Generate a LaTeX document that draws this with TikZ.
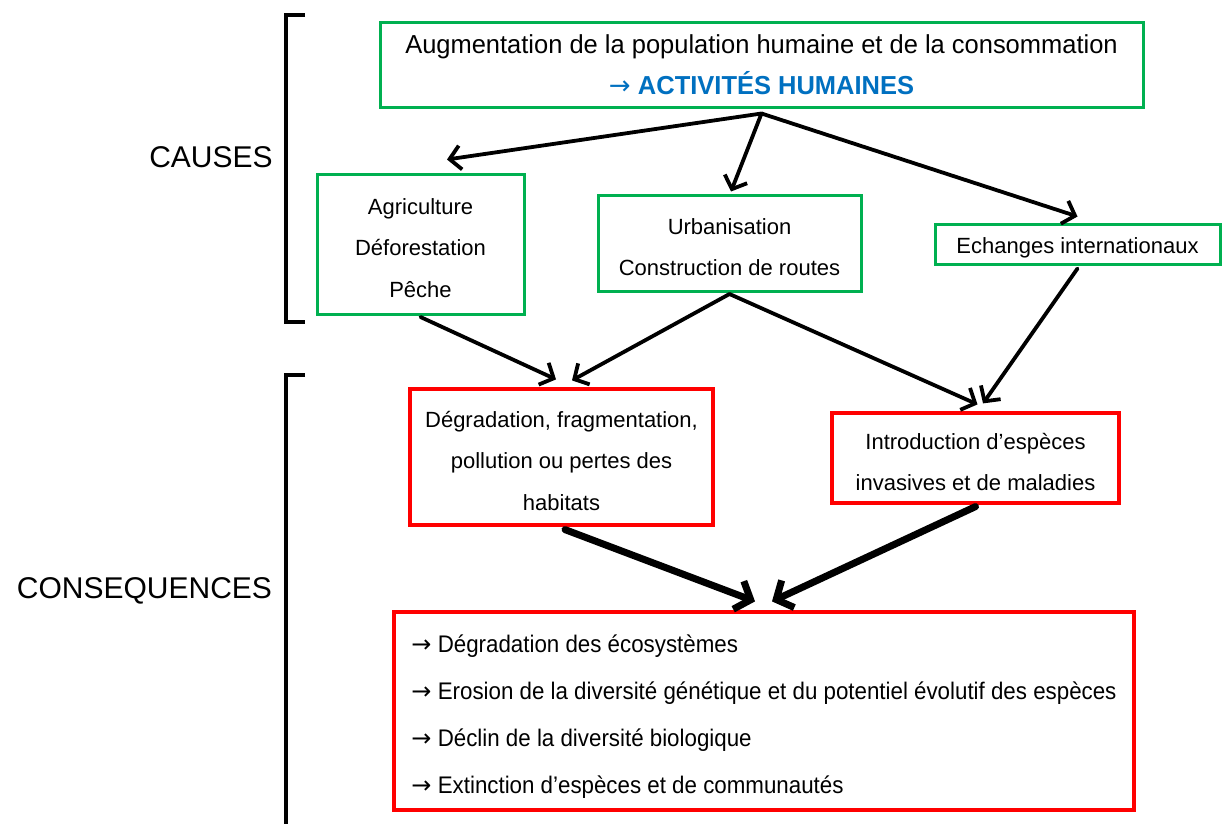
\documentclass[tikz,border=0pt]{standalone}
\usepackage{fontspec}
\setmainfont{Liberation Sans}
\newfontfamily\topfont[FakeStretch=0.98]{Liberation Sans}
\newfontfamily\listfont[FakeStretch=0.93]{Liberation Sans}
\newfontfamily\arrowfont{DejaVu Sans}
\newcommand{\rarr}{{\arrowfont →}}
\newcommand{\tstrut}{\rule{0pt}{24pt}}
\newcommand{\lstrut}{\rule{0pt}{29pt}}
\usetikzlibrary{arrows.meta}
\definecolor{boxgreen}{HTML}{00B050}
\definecolor{boxred}{HTML}{FF0000}
\definecolor{actblue}{HTML}{0070C0}
\begin{document}
\begin{tikzpicture}[x=1pt,y=-1pt,
  gbox/.style={draw=boxgreen, line width=3pt, inner sep=0pt, align=center, font=\fontsize{22}{41.5}\selectfont},
  rbox/.style={draw=boxred, line width=3.2pt, inner sep=0pt, align=center, font=\fontsize{22}{41.5}\selectfont},
  arr/.style={draw=black, line width=3.8pt, -{Straight Barb[length=11pt,width=24pt]}, line cap=round, line join=round},
  thickarr/.style={draw=black, line width=7pt, -{Straight Barb[length=13pt,width=30pt]}, line cap=round, line join=round},
  brk/.style={draw=black, line width=3.5pt},
  lab/.style={font=\fontsize{30}{36}\selectfont, inner sep=0pt, text depth=0pt}]
\useasboundingbox[fill=white] (0,0) rectangle (1222,823);

% brackets
\draw[brk] (305,15) -- (286,15) -- (286,322) -- (305,322);
\draw[brk] (305,375) -- (286,375) -- (286,830);

% labels
\node[lab] (causes) at (211,157) {CAUSES};
\node[lab] (cons) at (144.5,588) {CONSEQUENCES};

% boxes
\node[gbox, minimum width=763pt, minimum height=85pt, font=\fontsize{26}{41}\selectfont] (top) at (761.5,64.5)
  {{\topfont Augmentation de la population humaine et de la consommation}\\
   {\color{actblue}\rarr\ \topfont\bfseries ACTIVITÉS HUMAINES}};
\node[gbox, minimum width=207pt, minimum height=140pt] (agri) at (420.5,244)
  {\tstrut Agriculture\\Déforestation\\Pêche};
\node[gbox, minimum width=263pt, minimum height=96pt] (urb) at (729.5,243)
  {\tstrut Urbanisation\\Construction de routes};
\node[gbox, minimum width=285pt, minimum height=40pt] (ech) at (1077.5,244)
  {\tstrut Echanges internationaux};
\node[rbox, minimum width=303pt, minimum height=136pt] (deg) at (561.5,457)
  {\tstrut Dégradation, fragmentation,\\pollution ou pertes des\\habitats};
\node[rbox, minimum width=287pt, minimum height=90pt] (intro) at (975.5,458)
  {\tstrut Introduction d’espèces\\invasives et de maladies};
\node[rbox, minimum width=740pt, minimum height=198pt, align=left,
      font=\listfont\fontsize{24}{47}\selectfont] (res) at (764,711)
  {\lstrut\rarr\ Dégradation des écosystèmes\\
   \rarr\ Erosion de la diversité génétique et du potentiel évolutif des espèces\\
   \rarr\ Déclin de la diversité biologique\\
   \rarr\ Extinction d’espèces et de communautés};

% connectors
\draw[arr] ([yshift=-5pt]top.south) -- ([xshift=26.5pt,yshift=13pt]agri.north);
\draw[arr] ([yshift=-5pt]top.south) -- ([xshift=1.5pt,yshift=2pt]urb.north);
\draw[arr] ([yshift=-5pt]top.south) -- ([yshift=6pt]ech.north);
\draw[arr] ([yshift=-1.5pt]agri.south) -- ([xshift=-5.5pt,yshift=8pt]deg.north);
\draw[arr] ([yshift=-1.5pt]urb.south) -- ([xshift=10.5pt,yshift=7pt]deg.north);
\draw[arr] ([yshift=-1.5pt]urb.south) -- ([xshift=2pt,yshift=7pt]intro.north);
\draw[arr] ([yshift=-3pt]ech.south) -- ([xshift=7.5pt,yshift=8pt]intro.north);
\draw[thickarr] ([xshift=3.5pt,yshift=-3pt]deg.south) -- ([xshift=-9pt,yshift=9pt]res.north);
\draw[thickarr] ([yshift=-2pt]intro.south) -- ([xshift=8pt,yshift=9pt]res.north);
\end{tikzpicture}
\end{document}
